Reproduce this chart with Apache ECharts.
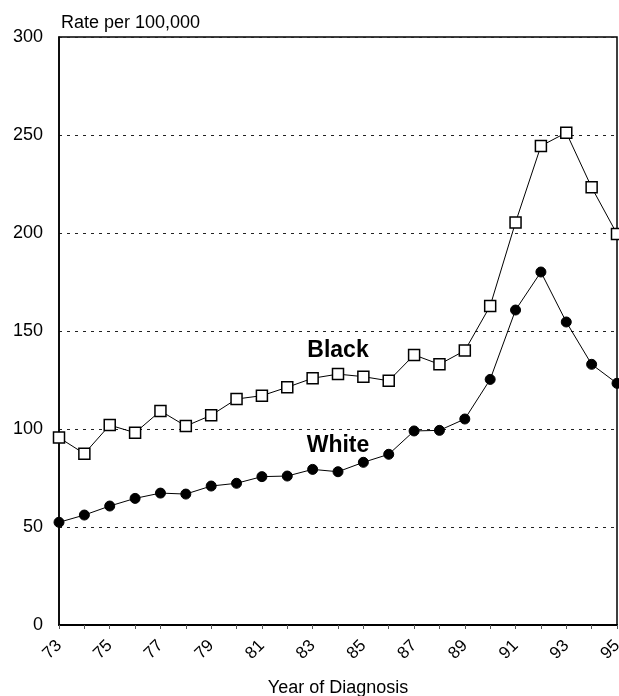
<!DOCTYPE html>
<html>
<head>
<meta charset="utf-8">
<script src="https://cdn.jsdelivr.net/npm/echarts@6/dist/echarts.min.js"></script>
<style>
html,body{margin:0;padding:0;background:#fff;}
#chart{width:619px;height:696px;}
</style>
</head>
<body>
<div id="chart"></div>
<script>
var years = ['73','74','75','76','77','78','79','80','81','82','83','84','85','86','87','88','89','90','91','92','93','94','95'];
var black = [95.6,87.4,102,98.1,109.2,101.5,107,115.3,117,121.3,125.9,128,126.7,124.6,137.8,133,140,162.8,205.4,244.4,251.2,223.3,199.5];
var white = [52.4,56.1,60.7,64.6,67.3,66.8,70.9,72.3,75.7,76,79.4,78.2,83,87.1,99,99.3,105.1,125.3,160.7,180.1,154.6,133,123.3];
var yTicks = [0,50,100,150,200,250,300];
var seriesNames = ['Black','White'];
var labelPos = {Black: ['84', 140], White: ['84', 91.5]};

var chart = echarts.init(document.getElementById('chart'));
var font = 'Arial, "Liberation Sans", sans-serif';
function nameMark(name) {
  return {
    symbol: 'circle', symbolSize: 1,
    itemStyle: {color: 'rgba(0,0,0,0)'},
    data: [{coord: labelPos[name], name: name}],
    label: {show: true, position: 'inside', formatter: name, fontFamily: font, fontSize: 23, fontWeight: 'bold', color: '#000'}
  };
}
chart.setOption({
  animation: false,
  backgroundColor: '#fff',
  grid: {left: 59, right: 2, top: 37, bottom: 71, containLabel: false, outerBoundsMode: 'none',
    show: true, borderColor: '#000', borderWidth: 1.5, backgroundColor: 'transparent'},
  title: {text: 'Rate per 100,000', left: 56, top: 9, textStyle: {fontFamily: font, fontSize: 18, fontWeight: 'normal', color: '#000'}},
  xAxis: {
    type: 'category', data: years, boundaryGap: false,
    name: 'Year of Diagnosis', nameLocation: 'middle', nameGap: 54,
    nameTextStyle: {fontFamily: font, fontSize: 18, color: '#000'},
    axisLine: {lineStyle: {color: '#000', width: 2}},
    axisTick: {show: true, interval: 0, length: 4, inside: false, lineStyle: {color: '#555', width: 1}},
    axisLabel: {interval: 1, rotate: 45, margin: 18, fontFamily: font, fontSize: 17, color: '#000'},
    splitLine: {show: false}
  },
  yAxis: {
    type: 'value', min: 0, max: 300, interval: 50,
    axisLine: {show: true, lineStyle: {color: '#000', width: 1.5}},
    axisTick: {show: false},
    axisLabel: {margin: 16, fontFamily: font, fontSize: 18, color: '#000',
      formatter: function(v){ return yTicks.indexOf(v) >= 0 ? String(v) : ''; }},
    splitLine: {show: true, lineStyle: {color: '#222', type: [3, 5], width: 1}}
  },
  series: [
    {
      name: seriesNames[0], type: 'line', data: black,
      symbol: 'rect', symbolSize: 11, showAllSymbol: true,
      lineStyle: {color: '#000', width: 1},
      itemStyle: {color: '#fff', borderColor: '#000', borderWidth: 1.5},
      markPoint: nameMark('Black'),
      z: 3
    },
    {
      name: seriesNames[1], type: 'line', data: white,
      symbol: 'circle', symbolSize: 10, showAllSymbol: true,
      lineStyle: {color: '#000', width: 1},
      itemStyle: {color: '#000', borderColor: '#000', borderWidth: 1},
      markPoint: nameMark('White'),
      z: 3
    }
  ]
});
</script>
</body>
</html>
